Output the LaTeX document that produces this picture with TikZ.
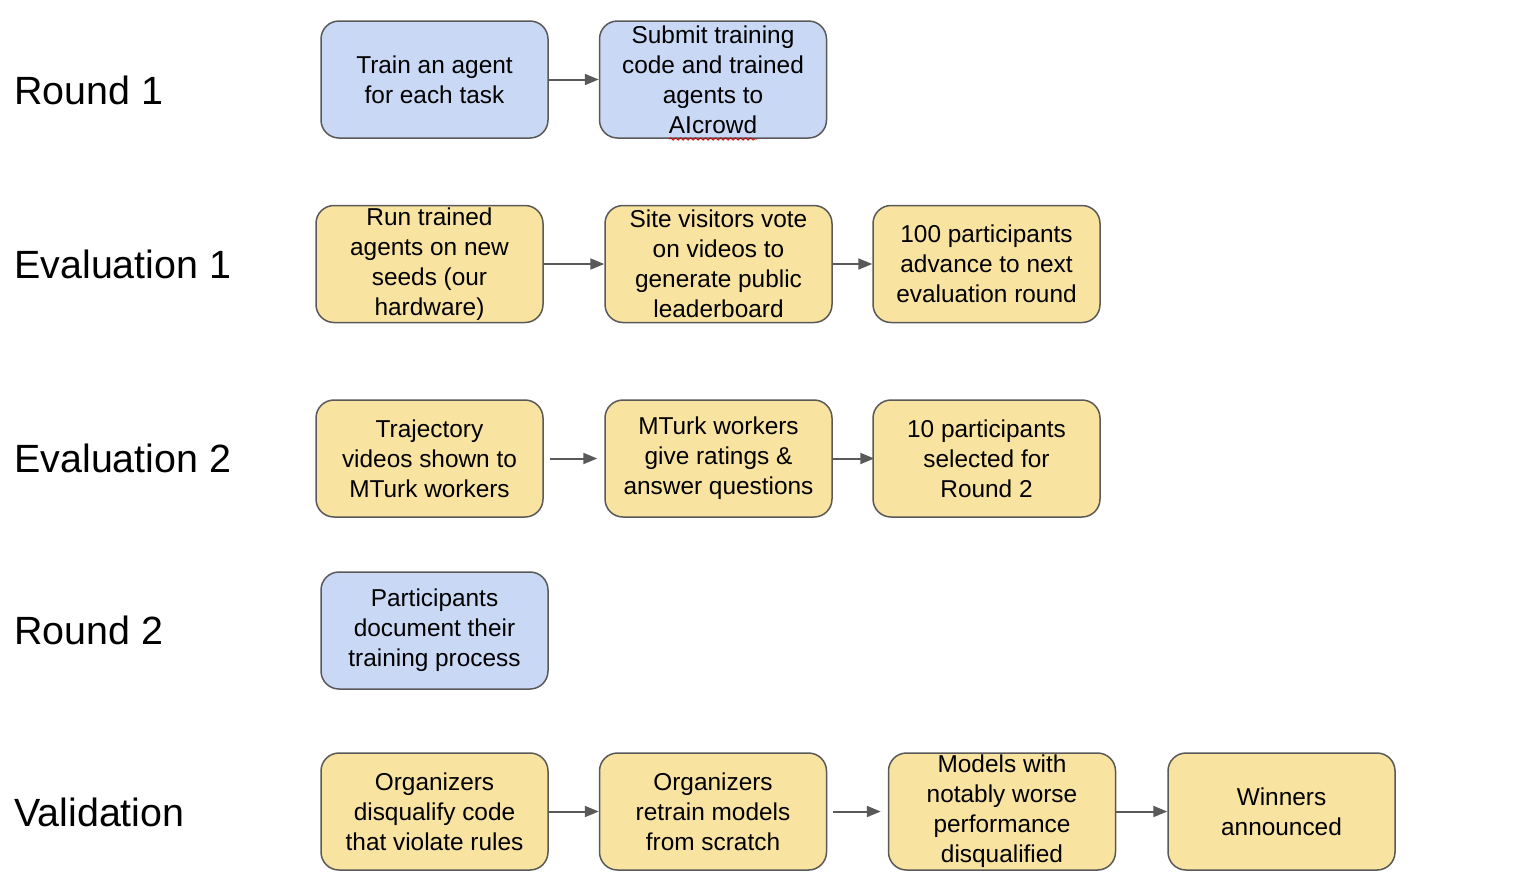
\documentclass[tikz,border=0pt]{standalone}
\usepackage{fontspec}
\setmainfont{Liberation Sans}
\usetikzlibrary{arrows.meta,decorations.pathmorphing}
\definecolor{bluefill}{HTML}{C9D8F4}
\definecolor{yellowfill}{HTML}{F9E3A0}
\definecolor{edgegray}{HTML}{595959}
\begin{document}
\begin{tikzpicture}[x=0.5pt,y=-0.5pt,
  box/.style={draw=edgegray, line width=0.75pt, rounded corners=9pt,
    minimum width=113.5pt, minimum height=58.5pt, inner sep=0pt,
    align=center, font=\fontsize{12.2pt}{15pt}\selectfont},
  bluebox/.style={box, fill=bluefill},
  ylwbox/.style={box, fill=yellowfill},
  rowlabel/.style={anchor=west, inner sep=0pt, font=\fontsize{19.7pt}{23pt}\selectfont},
  conn/.style={draw=edgegray, line width=1pt, -{Triangle[length=7pt,width=5.5pt]}}
]
\useasboundingbox (0,0) rectangle (1524,890);

% row labels
\node[rowlabel] (l1) at (14,90) {Round 1};
\node[rowlabel] (l2) at (14,264) {Evaluation 1};
\node[rowlabel] (l3) at (14,458) {Evaluation 2};
\node[rowlabel] (l4) at (14,630) {Round 2};
\node[rowlabel] (l5) at (14,812) {Validation};

% Round 1
\node[bluebox] (r1a) at (434.5,79.5) {Train an agent\\for each task};
\node[bluebox] (r1b) at (713,79.5) {Submit training\\code and trained\\agents to\\AIcrowd};
\coordinate (w1) at (669,139);
\coordinate (w2) at (757,139);
\draw[red!80!black, line width=0.4pt, decorate, decoration={snake, amplitude=0.6pt, segment length=2.5pt}] (w1) -- (w2);

% Evaluation 1
\node[ylwbox] (e1a) at (429.5,264) {Run trained\\agents on new\\seeds (our\\hardware)};
\node[ylwbox] (e1b) at (718.5,264) {Site visitors vote\\on videos to\\generate public\\leaderboard};
\node[ylwbox] (e1c) at (986.5,264) {100 participants\\advance to next\\evaluation round};

% Evaluation 2
\node[ylwbox] (e2a) at (429.5,458.5) {Trajectory\\videos shown to\\MTurk workers};
\node[ylwbox] (e2b) at (718.5,458.5) {MTurk workers\\give ratings \&\\answer questions};
\node[ylwbox] (e2c) at (986.5,458.5) {10 participants\\selected for\\Round 2};

% Round 2
\node[bluebox] (r2a) at (434.5,630.5) {Participants\\document their\\training process};

% Validation
\node[ylwbox] (va) at (434.5,811.5) {Organizers\\disqualify code\\that violate rules};
\node[ylwbox] (vb) at (713,811.5) {Organizers\\retrain models\\from scratch};
\node[ylwbox] (vc) at (1002,811.5) {Models with\\notably worse\\performance\\disqualified};
\node[ylwbox] (vd) at (1281.5,811.5) {Winners\\announced};

% connectors
\draw[conn] (r1a.east) -- (r1b.west);
\draw[conn] (e1a.east) -- (e1b.west);
\draw[conn] (e1b.east) -- (e1c.west);
\draw[conn, shorten <=3pt, shorten >=3.5pt] (e2a.east) -- (e2b.west);
\draw[conn, shorten >=-1pt] (e2b.east) -- (e2c.west);
\draw[conn] (va.east) -- (vb.west);
\draw[conn, shorten <=3pt, shorten >=3.5pt] (vb.east) -- (vc.west);
\draw[conn] (vc.east) -- (vd.west);
\end{tikzpicture}
\end{document}
